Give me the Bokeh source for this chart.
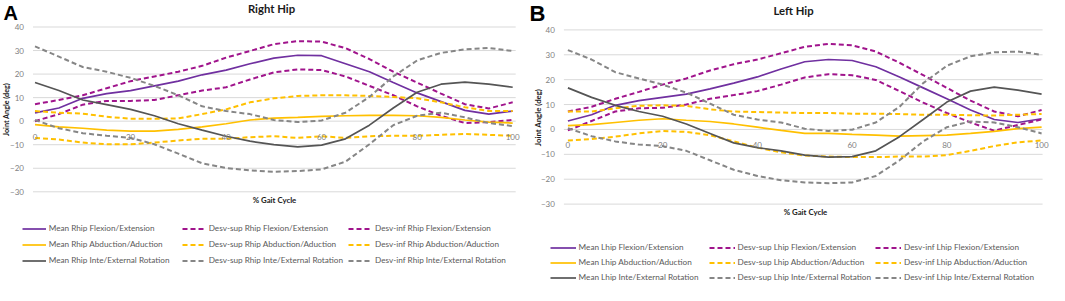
import math
from bokeh.plotting import figure
from bokeh.models import Range1d, LinearAxis, FixedTicker, Label, Legend, LegendItem
from bokeh.layouts import row
from bokeh.embed import file_html
from bokeh.resources import INLINE

# ---------------- data ----------------
pct = [0, 5, 10, 15, 20, 25, 30, 35, 40, 45, 50, 55, 60, 65, 70, 75, 80, 85, 90, 95, 100]
x_ticks = [0, 20, 40, 60, 80, 100]
y_ticks = [-30, -20, -10, 0, 10, 20, 30, 40]

# Right hip
r_flex_mean = [3.5, 5.6, 9.7, 11.7, 13.0, 15.0, 17.0, 19.7, 21.7, 24.4, 26.8, 28.0, 27.8, 24.4, 21.0, 16.4, 12.0, 8.3, 4.6, 3.0, 4.3]
r_flex_sup = [7.2, 9.0, 11.0, 14.0, 17.0, 19.0, 21.0, 23.5, 27.0, 29.8, 32.7, 34.0, 33.8, 31.0, 26.4, 21.0, 16.4, 11.7, 7.2, 5.4, 8.0]
r_flex_inf = [0.0, 3.0, 7.0, 8.6, 8.6, 9.0, 11.0, 13.0, 14.4, 17.7, 20.7, 22.0, 21.7, 19.0, 15.0, 11.0, 6.3, 2.3, -0.8, -0.4, 0.5]
r_abd_mean = [-1.5, -2.4, -3.0, -3.8, -4.2, -4.2, -3.5, -2.4, -1.1, 0.5, 1.3, 1.6, 2.0, 2.3, 2.5, 2.5, 2.3, 1.6, 0.5, -0.4, -0.8]
r_abd_sup = [4.3, 3.6, 3.2, 1.9, 1.0, 1.0, 1.2, 3.0, 5.0, 8.0, 9.7, 10.7, 11.0, 11.0, 10.7, 10.3, 9.7, 8.0, 5.9, 4.3, 4.3]
r_abd_inf = [-7.1, -7.8, -9.1, -9.8, -9.8, -9.1, -8.2, -7.5, -7.5, -6.8, -6.4, -7.1, -6.4, -7.1, -6.4, -6.2, -6.2, -5.8, -5.4, -5.8, -6.2]
r_rot_mean = [16.4, 13.0, 9.0, 7.0, 5.0, 2.3, -1.1, -3.8, -6.4, -8.5, -10.0, -10.9, -10.2, -7.5, -1.7, 5.6, 12.3, 15.7, 16.6, 15.7, 14.4]
r_rot_sup = [31.8, 27.4, 23.0, 21.0, 18.4, 15.0, 11.0, 6.3, 4.3, 3.0, 0.5, -0.4, 0.3, 3.6, 10.3, 19.0, 25.8, 29.0, 30.5, 31.1, 29.8]
r_rot_inf = [0.5, -3.0, -5.1, -6.2, -7.1, -9.8, -13.8, -17.9, -19.9, -20.9, -21.5, -21.2, -20.5, -17.2, -9.8, -1.7, 2.3, 3.6, 1.6, -0.8, -2.1]

# Left hip
l_flex_mean = [3.4, 5.9, 9.7, 11.6, 12.9, 14.2, 16.3, 18.6, 21.1, 24.3, 27.2, 28.1, 27.7, 25.2, 21.1, 16.7, 12.3, 7.8, 4.0, 2.8, 4.3]
l_flex_sup = [7.2, 9.1, 12.3, 15.1, 18.0, 20.5, 23.7, 26.2, 28.1, 30.6, 33.2, 34.4, 33.8, 31.3, 26.8, 21.8, 16.7, 11.6, 7.2, 5.3, 7.8]
l_flex_inf = [-0.4, 3.4, 7.2, 8.5, 8.7, 10.0, 12.3, 13.8, 15.4, 18.0, 20.9, 22.2, 21.8, 19.9, 15.4, 10.8, 6.6, 2.8, -0.5, 1.8, 4.0]
l_abd_mean = [1.5, 1.9, 2.8, 3.7, 4.3, 3.7, 3.2, 2.2, 0.9, -0.4, -1.6, -1.6, -2.0, -2.3, -2.7, -2.5, -2.3, -1.6, -0.8, 0.3, 0.9]
l_abd_sup = [7.2, 7.2, 8.5, 9.5, 9.7, 9.5, 8.1, 7.2, 7.0, 6.8, 6.6, 6.6, 6.3, 6.3, 6.2, 5.9, 5.9, 5.7, 5.6, 5.9, 6.2]
l_abd_inf = [-4.4, -3.9, -2.9, -1.6, -0.6, -1.0, -2.3, -4.8, -7.3, -9.2, -10.5, -10.9, -11.1, -11.1, -10.9, -10.9, -10.3, -8.6, -6.7, -5.2, -4.4]
l_rot_mean = [16.7, 12.9, 9.7, 7.2, 5.3, 2.2, -1.6, -5.4, -7.3, -8.6, -10.3, -11.1, -10.9, -8.6, -2.9, 4.0, 11.0, 15.4, 17.0, 15.8, 14.2]
l_rot_sup = [31.9, 28.1, 23.0, 20.5, 18.0, 14.8, 10.4, 5.9, 4.0, 2.8, 0.3, -0.6, -0.1, 2.8, 9.1, 18.6, 25.6, 29.4, 31.0, 31.3, 30.0]
l_rot_inf = [0.5, -2.7, -4.8, -6.1, -6.7, -8.6, -12.4, -16.2, -18.7, -20.4, -21.3, -21.6, -21.3, -18.7, -12.4, -4.8, 0.9, 3.2, 2.8, 0.9, -1.6]

# ---------------- styles ----------------
C_PURPLE = "#7030A0"
C_MAGENTA = "#A0148C"
C_YELLOW = "#FFC000"
C_DGRAY = "#555555"
C_GRAY = "#868686"
FONT = "Lato"
Y_LO, Y_HI = -30, 40


def make_panel(letter, title, series, g):
    # g holds picture-pixel geometry; the frame covers the whole figure
    fx0, fy0 = g["x0"], 0
    fw, fh = g["w"], g["h"]
    xppu = (g["px100"] - g["px0"]) / 100.0
    yppu = (g["py_lo"] - g["py_hi"]) / float(Y_HI - Y_LO)
    x_start = (fx0 - g["px0"]) / xppu
    x_end = (fx0 + fw - g["px0"]) / xppu
    y_end = Y_HI + (g["py_hi"] - fy0) / yppu
    y_start = Y_LO - (fy0 + fh - g["py_lo"]) / yppu
    gx0 = (g["gl"] - g["px0"]) / xppu
    gx1 = (g["gr"] - g["px0"]) / xppu

    p = figure(width=fw, height=fh, output_backend="svg", toolbar_location=None,
               x_range=Range1d(x_start, x_end), y_range=Range1d(y_start, y_end),
               x_axis_location=None, y_axis_location=None, min_border=0)
    p.outline_line_color = None
    p.border_fill_color = "white"
    p.background_fill_color = "white"
    p.xgrid.visible = False
    p.ygrid.visible = False

    # horizontal gridlines across the plot area only
    p.segment(x0=[gx0] * len(y_ticks), x1=[gx1] * len(y_ticks), y0=y_ticks, y1=y_ticks,
              line_color="#d9d9d9", line_width=1)

    yax = LinearAxis(ticker=FixedTicker(ticks=y_ticks), fixed_location=gx0)
    yax.axis_line_color = None
    yax.major_tick_line_color = None
    yax.minor_tick_line_color = None
    yax.major_label_text_font = FONT
    yax.major_label_text_font_size = "8px"
    yax.major_label_text_color = "#7f7f7f"
    yax.major_label_standoff = 3
    p.add_layout(yax, "left")

    xax = LinearAxis(ticker=FixedTicker(ticks=x_ticks), fixed_location=0)
    xax.axis_line_color = None
    xax.major_tick_line_color = None
    xax.minor_tick_line_color = None
    xax.major_label_text_font = FONT
    xax.major_label_text_font_size = "8px"
    xax.major_label_text_color = "#7f7f7f"
    xax.major_label_standoff = 7
    p.add_layout(xax, "below")

    styles = [
        (C_PURPLE, "solid", 1.7), (C_MAGENTA, "5 3", 2.0), (C_MAGENTA, "5 3", 2.0),
        (C_YELLOW, "solid", 1.7), (C_YELLOW, "5 3", 2.0), (C_YELLOW, "5 3", 2.0),
        (C_DGRAY, "solid", 1.7), (C_GRAY, "5 3", 2.0), (C_GRAY, "5 3", 2.0),
    ]
    items = []
    for (label, ys), (col, dash, lw) in zip(series, styles):
        r = p.line(pct, ys, line_color=col, line_dash=dash, line_width=lw)
        items.append(LegendItem(label=label, renderers=[r]))

    def sx(px):
        return px - fx0

    def sy(py):
        return fy0 + fh - py

    legend = Legend(items=items, orientation="horizontal", ncols=3,
                    location=(sx(g["lg_x"]), sy(g["lg_b"])))
    legend.border_line_color = None
    legend.background_fill_alpha = 0
    legend.padding = 0
    legend.margin = 0
    legend.spacing = g["lg_sp"]
    legend.glyph_width = g["gw"]
    legend.glyph_height = 11
    legend.label_height = 11
    legend.label_width = g["lw"]
    legend.label_standoff = 3
    legend.label_text_font = FONT
    legend.label_text_font_size = "8.2px"
    legend.label_text_color = "#595959"
    p.add_layout(legend)

    p.add_layout(Label(x=sx(g["L_x"]), y=sy(g["L_top"]), x_units="screen", y_units="screen",
                       text=letter, text_font="Liberation Sans", text_font_style="bold",
                       text_font_size=g["L_fs"], text_baseline="top", text_align="left",
                       text_color="black"))
    p.add_layout(Label(x=sx(g["T_x"]), y=sy(g["T_y"]), x_units="screen", y_units="screen",
                       text=title, text_font=FONT, text_font_style="bold",
                       text_font_size="11.3px", text_baseline="middle", text_align="center",
                       text_color="#1a1a1a"))
    p.add_layout(Label(x=sx(g["Y_x"]), y=sy(g["Y_y"]), x_units="screen", y_units="screen",
                       text="Joint Angle (deg)", angle=math.pi / 2, text_font=FONT,
                       text_font_style="bold", text_font_size=g["Y_fs"], text_baseline="middle",
                       text_align="center", text_color="#1a1a1a"))
    p.add_layout(Label(x=sx(g["X_x"]), y=sy(g["X_y"]), x_units="screen", y_units="screen",
                       text="% Gait Cycle", text_font=FONT, text_font_style="bold",
                       text_font_size="7.8px", text_baseline="middle", text_align="center",
                       text_color="#1a1a1a"))
    return p


right_series = [
    ("Mean Rhip Flexion/Extension", r_flex_mean),
    ("Desv-sup Rhip Flexion/Extension", r_flex_sup),
    ("Desv-inf Rhip Flexion/Extension", r_flex_inf),
    ("Mean Rhip Abduction/Aduction", r_abd_mean),
    ("Desv-sup Rhip Abduction/Aduction", r_abd_sup),
    ("Desv-inf Rhip Abduction/Aduction", r_abd_inf),
    ("Mean Rhip Inte/External Rotation", r_rot_mean),
    ("Desv-sup Rhip Inte/External Rotation", r_rot_sup),
    ("Desv-inf Rhip Inte/External Rotation", r_rot_inf),
]
left_series = [
    ("Mean Lhip Flexion/Extension", l_flex_mean),
    ("Desv-sup Lhip Flexion/Extension", l_flex_sup),
    ("Desv-inf Lhip Flexion/Extension", l_flex_inf),
    ("Mean Lhip Abduction/Aduction", l_abd_mean),
    ("Desv-sup Lhip Abduction/Aduction", l_abd_sup),
    ("Desv-inf Lhip Abduction/Aduction", l_abd_inf),
    ("Mean Lhip Inte/External Rotation", l_rot_mean),
    ("Desv-sup Lhip Inte/External Rotation", l_rot_sup),
    ("Desv-inf Lhip Inte/External Rotation", l_rot_inf),
]

# picture-pixel geometry of each panel
gA = dict(x0=0, w=525, h=285, px0=34.5, px100=512.2, py_hi=26.5, py_lo=191.3, gl=32.5, gr=515.2,
          lg_x=21.7, lg_b=265.5, lg_sp=5, gw=24, lw=128,
          L_x=3, L_top=1, L_fs="20px", T_x=271, T_y=8, Y_x=6, Y_y=109, Y_fs="7.2px", X_x=274, X_y=199)
gB = dict(x0=525, w=524, h=285, px0=567.4, px100=1041.1, py_hi=29.4, py_lo=203.6, gl=563.4, gr=1042.1,
          lg_x=549.6, lg_b=282.5, lg_sp=4, gw=26, lw=126,
          L_x=529, L_top=0, L_fs="22px", T_x=793, T_y=9.5, Y_x=537, Y_y=117, Y_fs="7.8px", X_x=805, X_y=211)

pA = make_panel("A", "Right Hip", right_series, gA)
pB = make_panel("B", "Left Hip", left_series, gB)

layout = row(pA, pB, spacing=0)
open("out.html", "w").write(file_html(layout, INLINE))
